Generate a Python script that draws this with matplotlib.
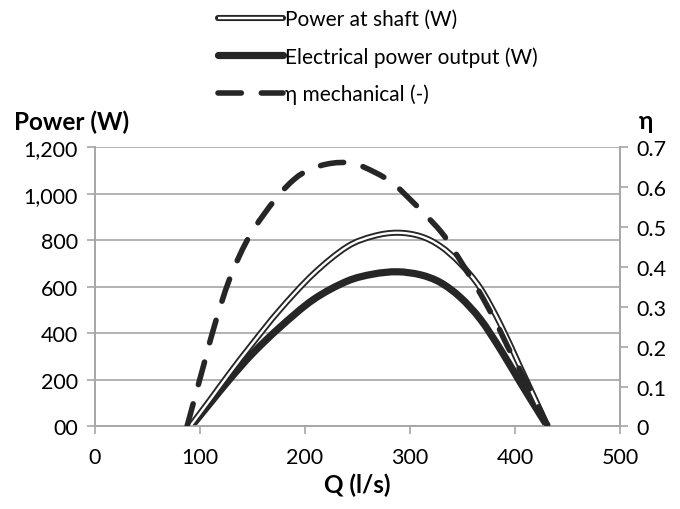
import matplotlib
matplotlib.use("Agg")
import matplotlib.pyplot as plt
from matplotlib.lines import Line2D
from matplotlib.path import Path
from matplotlib.patches import PathPatch
from matplotlib.ticker import FuncFormatter

plt.rcParams['font.family'] = ['Lato', 'DejaVu Sans']

# Data
q_shaft = [91, 110, 129, 150, 176, 208, 240, 265, 288, 310, 329, 348, 367, 386, 405, 424, 431]
p_shaft = [0, 115, 232, 355, 500, 655, 772, 818, 833, 818, 775, 700, 595, 440, 255, 70, 0]

q_elec = [92, 110, 129, 150, 176, 208, 240, 265, 288, 310, 329, 348, 367, 386, 405, 424, 431]
p_elec = [0, 100, 205, 312, 425, 545, 624, 655, 665, 652, 619, 555, 461, 332, 189, 50, 0]

q_eta = [88, 95, 105, 116, 130, 148, 172, 190, 205, 225, 246, 267, 284, 300, 314, 330, 341, 354, 364, 374, 384, 393, 403, 415, 424, 431]
eta = [0, 0.068, 0.165, 0.27, 0.38, 0.48, 0.57, 0.62, 0.645, 0.66, 0.66, 0.637, 0.61, 0.57, 0.533, 0.487, 0.445, 0.39, 0.347, 0.30, 0.25, 0.20, 0.15, 0.088, 0.04, 0]

x_ticks = [0, 100, 200, 300, 400, 500]
y_ticks = [0, 200, 400, 600, 800, 1000, 1200]
y2_ticks = [0, 0.1, 0.2, 0.3, 0.4, 0.5, 0.6, 0.7]

dark = '#262626'
grid = '#a6a6a6'


def smooth_path(xs, ys):
    """Smoothed line (Catmull-Rom as cubic Bezier) through the given points."""
    pts = list(zip(xs, ys))
    n = len(pts)
    verts = [pts[0]]
    codes = [Path.MOVETO]
    for i in range(n - 1):
        p0 = pts[i - 1] if i > 0 else pts[i]
        p1 = pts[i]
        p2 = pts[i + 1]
        p3 = pts[i + 2] if i + 2 < n else pts[i + 1]
        c1 = (p1[0] + (p2[0] - p0[0]) / 6.0, p1[1] + (p2[1] - p0[1]) / 6.0)
        c2 = (p2[0] - (p3[0] - p1[0]) / 6.0, p2[1] - (p3[1] - p1[1]) / 6.0)
        verts += [c1, c2, p2]
        codes += [Path.CURVE4] * 3
    return Path(verts, codes)


fig = plt.figure(figsize=(6.8, 5.1), dpi=100)
ax = fig.add_axes([0.139, 0.162, 0.773, 0.547])
ax2 = ax.twinx()

ax.set_xlim(0, 500)
ax.set_ylim(0, 1200)
ax2.set_ylim(0, 0.7)

lw_sh, lw_sh_in, lw_el, lw_eta = 4.4, 1.7, 5.2, 4.0
dash = (4.2, 3.6)

# Shaft power (double line)
ax.add_patch(PathPatch(smooth_path(q_shaft, p_shaft), fill=False, edgecolor=dark, lw=lw_sh, capstyle='butt', zorder=3))
ax.add_patch(PathPatch(smooth_path(q_shaft, p_shaft), fill=False, edgecolor='white', lw=lw_sh_in, capstyle='butt', zorder=4))
# Electrical power
ax.add_patch(PathPatch(smooth_path(q_elec, p_elec), fill=False, edgecolor=dark, lw=lw_el, capstyle='butt', zorder=3))
# Efficiency
ax2.add_patch(PathPatch(smooth_path(q_eta, eta), fill=False, edgecolor=dark, lw=lw_eta,
                        linestyle=(0, dash), capstyle='round', zorder=5))

ax.set_xticks(x_ticks)
ax.set_yticks(y_ticks)
ax2.set_yticks(y2_ticks)


def yfmt(v, pos):
    if v == 0:
        return '00'
    return f'{int(v):,}'


ax.yaxis.set_major_formatter(FuncFormatter(yfmt))
ax2.yaxis.set_major_formatter(FuncFormatter(lambda v, p: '0' if v == 0 else f'{v:.1f}'))

ax.grid(axis='y', color=grid, lw=1.2)
ax.set_axisbelow(True)

fs = 15.5
for a in (ax, ax2):
    a.spines['top'].set_visible(False)
    for s in ['left', 'right', 'bottom']:
        a.spines[s].set_color(grid)
        a.spines[s].set_linewidth(1.2)
    a.tick_params(colors=grid, labelcolor='black', labelsize=fs, width=1.2, length=6, direction='out')

ax.tick_params(axis='x', pad=9)
ax.tick_params(axis='y', pad=6)
ax2.tick_params(axis='y', pad=6)

lfs = 17.5
ax.set_xlabel('Q (l/s)', fontsize=lfs, fontweight='bold', labelpad=4)
fig.text(0.020, 0.761, 'Power (W)', fontsize=lfs, fontweight='bold', ha='left', va='center')
fig.text(0.940, 0.761, 'η', fontsize=lfs, fontweight='bold', ha='left', va='center')

sh_b = Line2D([], [], color=dark, lw=lw_sh, solid_capstyle='round')
sh_w = Line2D([], [], color='white', lw=lw_sh_in, solid_capstyle='butt')
el = Line2D([], [], color=dark, lw=lw_el, solid_capstyle='round')
et = Line2D([], [], color=dark, lw=lw_eta, dashes=dash, dash_capstyle='round')
handles = [(sh_b, sh_w), el, et]
labels = ['Power at shaft (W)', 'Electrical power output (W)', 'η mechanical (-)']
fig.legend(handles, labels, loc='upper left', bbox_to_anchor=(218 / 680, 1 - 10 / 510), frameon=False,
           fontsize=15, handlelength=3.1, handletextpad=0.12, labelspacing=0.82,
           borderaxespad=0, borderpad=0)

fig.savefig('out.png', dpi=100)
